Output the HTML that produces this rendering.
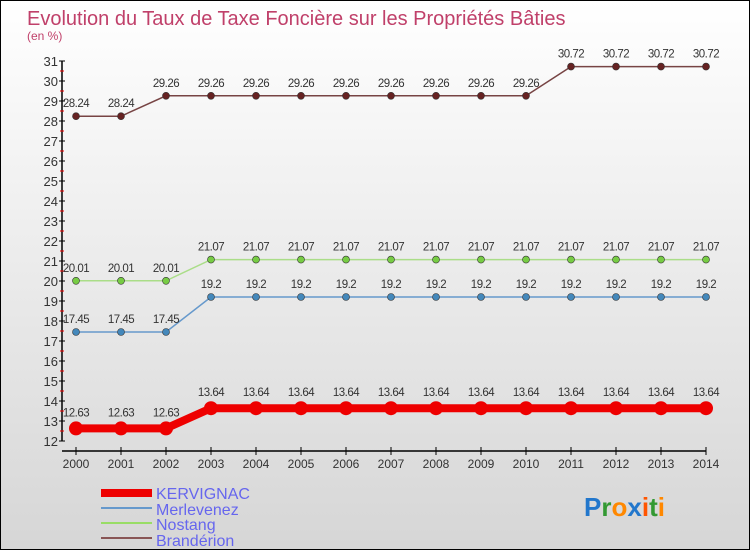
<!DOCTYPE html>
<html><head><meta charset="utf-8"><style>
body{margin:0}
#c{width:748px;height:548px;border:1px solid #000;background:linear-gradient(#fff,#d6d6d6);position:relative;overflow:hidden;font-family:"Liberation Sans",sans-serif}
</style></head><body>
<div id="c">
<svg id="s" width="748" height="548" style="position:absolute;left:0;top:0">
<text x="26" y="24" font-size="20" fill="#c0406a" style="font-weight:300">Evolution du Taux de Taxe Foncière sur les Propriétés Bâties</text>
<text x="26" y="39" font-size="12" fill="#c0406a">(en %)</text>
<g id="legend">
<line x1="100" y1="492" x2="151" y2="492" stroke="#ee0000" stroke-width="8"/>
<text x="155" y="498" font-size="16" fill="#6666ee">KERVIGNAC</text>
<line x1="100" y1="507" x2="151" y2="507" stroke="#6699cc" stroke-width="2"/>
<text x="155" y="514" font-size="16" fill="#6666ee">Merlevenez</text>
<line x1="100" y1="522" x2="151" y2="522" stroke="#99dd66" stroke-width="2"/>
<text x="155" y="529" font-size="16" fill="#6666ee">Nostang</text>
<line x1="100" y1="537" x2="151" y2="537" stroke="#885555" stroke-width="2"/>
<text x="155" y="545" font-size="16" fill="#6666ee">Brandérion</text>
</g>
<text x="583" y="515" font-size="26" font-weight="bold"><tspan fill="#2277cc">P</tspan><tspan fill="#339933">r</tspan><tspan fill="#ff8800">o</tspan><tspan fill="#2277cc">x</tspan><tspan fill="#ff5500">i</tspan><tspan fill="#339933">t</tspan><tspan fill="#ff8800">i</tspan></text>
</svg>
</div>
<script>
const years=[2000,2001,2002,2003,2004,2005,2006,2007,2008,2009,2010,2011,2012,2013,2014];
const kervignac=[12.63,12.63,12.63,13.64,13.64,13.64,13.64,13.64,13.64,13.64,13.64,13.64,13.64,13.64,13.64];
const merlevenez=[17.45,17.45,17.45,19.2,19.2,19.2,19.2,19.2,19.2,19.2,19.2,19.2,19.2,19.2,19.2];
const nostang=[20.01,20.01,20.01,21.07,21.07,21.07,21.07,21.07,21.07,21.07,21.07,21.07,21.07,21.07,21.07];
const branderion=[28.24,28.24,29.26,29.26,29.26,29.26,29.26,29.26,29.26,29.26,29.26,30.72,30.72,30.72,30.72];
const yTicks=[12,13,14,15,16,17,18,19,20,21,22,23,24,25,26,27,28,29,30,31];
const NS="http://www.w3.org/2000/svg";
const s=document.getElementById('s');
const X=i=>75+i*45;
const Y=v=>440-(v-12)*20;
function mk(t,a,p){const e=document.createElementNS(NS,t);for(const k in a)e.setAttribute(k,a[k]);(p||s).appendChild(e);return e;}
const ax=mk('g',{});


mk('line',{x1:61,y1:Y(31),x2:61,y2:Y(12),stroke:'#000','stroke-width':1.5},ax);
mk('line',{x1:61,y1:450,x2:X(14),y2:450,stroke:'#000','stroke-width':1.5},ax);
yTicks.forEach(v=>{
 mk('line',{x1:58,y1:Y(v),x2:64,y2:Y(v),stroke:'#000'},ax);
 if(v<31) mk('line',{x1:59,y1:Y(v+0.5),x2:63,y2:Y(v+0.5),stroke:'#e00'},ax);
 const t=mk('text',{x:57,y:Y(v)+5,'font-size':13,fill:'#333','text-anchor':'end'},ax);t.textContent=v;
 
 
});
years.forEach((y,i)=>{
 mk('line',{x1:X(i),y1:446,x2:X(i),y2:454,stroke:'#000'},ax);
 const t=mk('text',{x:X(i),y:467,'font-size':12,fill:'#333','text-anchor':'middle'},ax);t.textContent=y;
 
 
});
function series(name,d,col,dot,w,r,fs){
 const g=mk('g',{});
 
 
 mk('polyline',{points:d.map((v,i)=>X(i)+','+Y(v)).join(' '),fill:'none',stroke:col,'stroke-width':w},g);
 d.forEach((v,i)=>{
  const c=mk('circle',{cx:X(i),cy:Y(v),r:r,fill:dot,stroke:'#333','stroke-width':r>5?0:0.6},g);
  
  
  const t=mk('text',{x:X(i),y:Y(v)-(r>5?12:9),'font-size':fs,fill:'#333','text-anchor':'middle','letter-spacing':'-0.5'},g);
  t.textContent=String(v);
  
  
 });
}
series('branderion',branderion,'#774444','#662222',1.5,3.5,11.5);
series('nostang',nostang,'#aadd88','#77cc44',1.5,3.5,11.5);
series('merlevenez',merlevenez,'#6699cc','#4488bb',1.5,3.5,11.5);
series('kervignac',kervignac,'#ee0000','#ee0000',8,7,11.5);
</script>
</body></html>
